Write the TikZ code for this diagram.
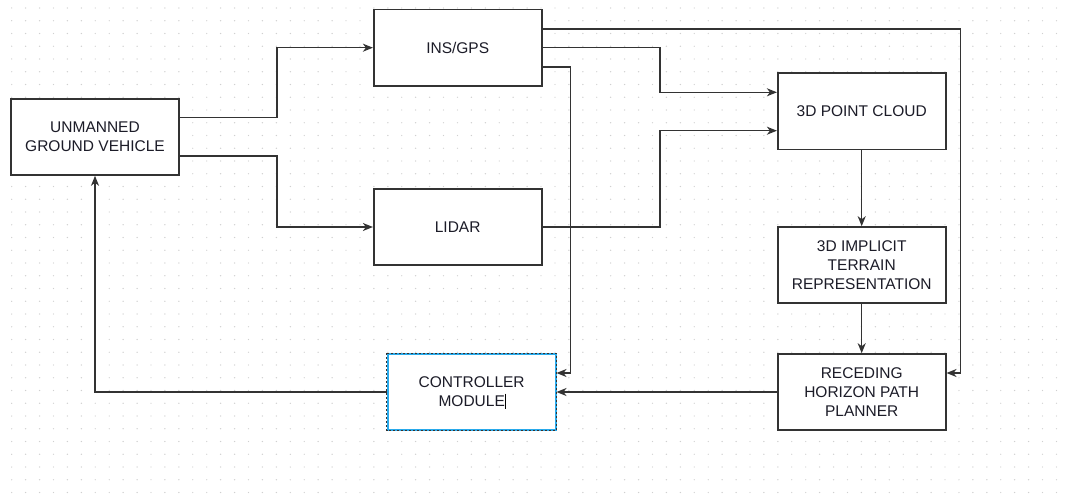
\documentclass[tikz,border=0pt]{standalone}
\usepackage{fontspec}
\setmainfont{Liberation Sans}
\usepackage{tikz}
\usetikzlibrary{arrows.meta,calc}
\definecolor{dgLine}{RGB}{51,51,51}
\definecolor{dgDot}{RGB}{208,208,208}
\definecolor{dgSelect}{RGB}{41,170,235}
\definecolor{dgText}{RGB}{28,28,40}

\begin{document}
\begin{tikzpicture}[x=1pt,y=-1pt,
  block/.style={draw=dgLine,fill=white,line width=1.6pt,minimum width=168pt,minimum height=76pt,
    inner sep=2pt,align=center,font=\fontsize{15.5}{19}\selectfont,text=dgText},
  wire/.style={draw=dgLine,line width=1.5pt},
  flow/.style={wire,-{Stealth[length=10pt,width=8pt,inset=3pt]}}]
  \useasboundingbox[fill=white] (0,0) rectangle (1068,495);
  \foreach \i in {0,...,75}{\foreach \j in {0,...,38}{\fill[dgDot] (11.7+13.93*\i,8+12.75*\j) circle (0.7);}}
  \node[block] (ugv) at (95,137) {UNMANNED\\GROUND VEHICLE};
  \node[block] (ins) at (457.7,47.7) {INS/GPS};
  \node[block] (lidar) at (457.7,227) {LIDAR};
  \node[block] (cloud) at (861.7,111.3) {3D POINT CLOUD};
  \node[block] (terrain) at (861.7,265) {3D IMPLICIT\\TERRAIN\\REPRESENTATION};
  \node[block] (planner) at (861.7,392) {RECEDING\\HORIZON PATH\\PLANNER};
  \node[block,draw=dgSelect] (ctrl) at (471.7,392) {CONTROLLER\\MODULE};
  \draw[dgLine,line width=1pt,dash pattern=on 2pt off 2pt] (ctrl.north west) rectangle (ctrl.south east);
  \draw[line width=0.9pt] ([shift={(34,1.5)}]ctrl.center) -- ++(0,15);
  \draw[flow] ([yshift=19.5pt]ugv.east) -- ++(97,0) |- (ins.west);
  \draw[flow] ([yshift=-19pt]ugv.east) -- ++(97,0) |- (lidar.west);
  \draw[flow] ([yshift=18.7pt]ins.east) -| ([xshift=14pt,yshift=19pt]planner.east) -- ([yshift=19pt]planner.east);
  \draw[flow] (ins.east) -- ++(117.3,0) |- ([yshift=19pt]cloud.west);
  \draw[flow] ([yshift=-19.3pt]ins.east) -| ([xshift=14pt,yshift=19pt]ctrl.east) -- ([yshift=19pt]ctrl.east);
  \draw[flow] (lidar.east) -- ++(117.3,0) |- ([yshift=-19.4pt]cloud.west);
  \draw[flow] (cloud) -- (terrain);
  \draw[flow] (terrain) -- (planner);
  \draw[flow] (planner) -- (ctrl);
  \draw[flow] (ctrl.west) -| (ugv.south);
\end{tikzpicture}
\end{document}
